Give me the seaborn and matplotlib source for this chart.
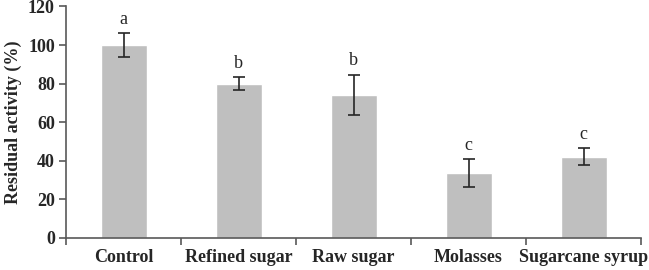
import matplotlib
matplotlib.use("Agg")
import matplotlib.pyplot as plt
import numpy as np
import pandas as pd
import seaborn as sns

# data
categories = ["Control", "Refined sugar", "Raw sugar", "Molasses", "Sugarcane syrup"]
activity = [100.0, 80.0, 74.3, 33.6, 42.2]
errors = [6.1, 3.2, 10.4, 7.2, 4.3]
letters = ["a", "b", "b", "c", "c"]

df = pd.DataFrame({"sample": categories, "activity": activity})

sns.set_style("white")
plt.rcParams["font.family"] = ["Liberation Serif", "DejaVu Serif"]

fig = plt.figure(figsize=(6.49, 2.70), dpi=100)
ax = fig.add_axes([66 / 649, 32 / 270, 575 / 649, 231.6 / 270])

sns.barplot(data=df, x="sample", y="activity", color="#bfbfbf", width=0.4,
            errorbar=None, saturation=1, ax=ax)
ax.errorbar(np.arange(len(categories)), activity, yerr=errors, fmt="none",
            ecolor="#262626", elinewidth=1.2, capsize=4.5, capthick=1.2)

for i, (v, e, lab) in enumerate(zip(activity, errors, letters)):
    ax.annotate(lab, (i, v + e), xytext=(0, 4), textcoords="offset points",
                ha="center", va="bottom", fontsize=13)

ax.set_xlim(-0.5, len(categories) - 0.5)
ax.set_ylim(0, 120)
ax.set_yticks(range(0, 121, 20))
ax.set_xlabel("")
ax.set_ylabel("Residual activity (%)", fontsize=13, fontweight="bold", labelpad=4)

for s in ["top", "right"]:
    ax.spines[s].set_visible(False)
for s in ["left", "bottom"]:
    ax.spines[s].set_color("#595959")
    ax.spines[s].set_linewidth(1.2)

ax.tick_params(axis="y", direction="out", length=5, width=1.2, color="#595959",
               labelsize=13, pad=3, left=True)
ax.tick_params(axis="x", which="major", length=0, labelsize=13, pad=8)
ax.set_xticks(np.arange(len(categories) + 1) - 0.5, minor=True)
ax.tick_params(axis="x", which="minor", direction="out", length=5, width=1.2,
               color="#595959", bottom=True)
for t in ax.get_xticklabels() + ax.get_yticklabels():
    t.set_fontweight("bold")

fig.savefig("out.png", dpi=100)
